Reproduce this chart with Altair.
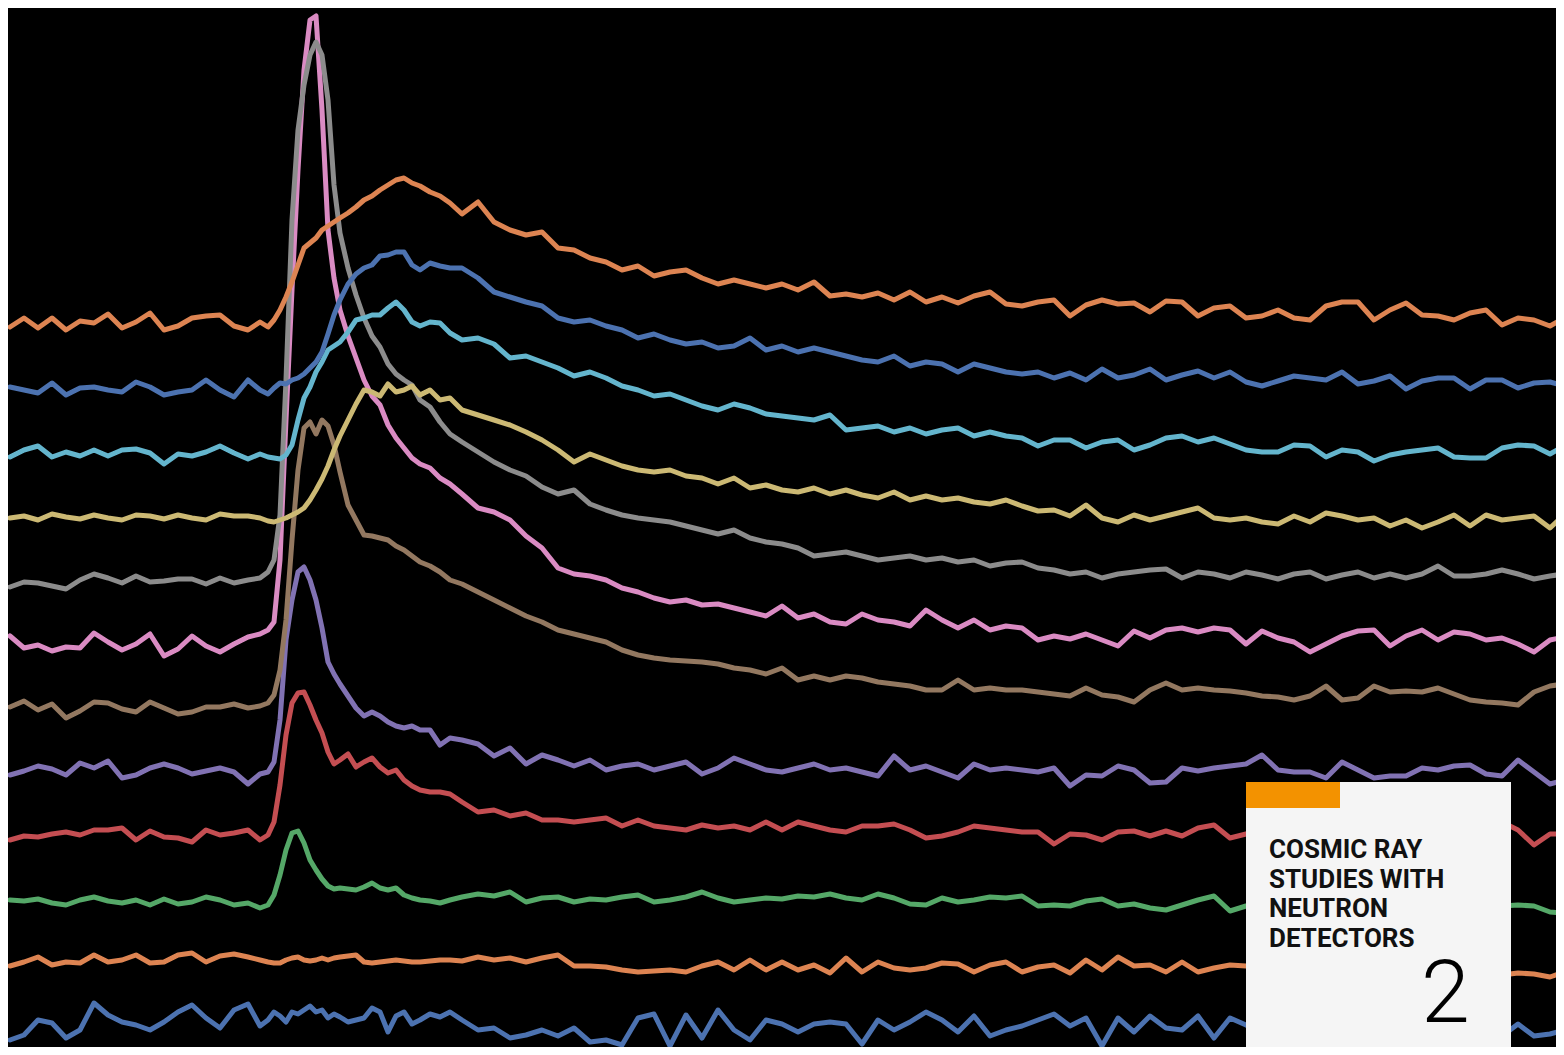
import altair as alt
import pandas as pd

# shared sample positions (horizontal channel, arbitrary time units)
X_LEFT = [10, 24, 38, 52, 66, 80, 94, 108, 122, 136, 150, 164, 178, 192, 206, 220, 234, 248, 260, 268]
X_PEAK = [274, 280, 286, 292, 298, 304, 310, 316, 322, 328, 334, 340, 348, 356, 364, 372, 380, 388, 396, 404,
          412, 420, 430, 440, 450]
X_TAIL = [462, 478, 494, 510, 526, 542, 558, 574, 590, 606,
          622, 638, 654, 670, 686, 702, 718, 734, 750, 766,
          782, 798, 814, 830, 846, 862, 878, 894, 910, 926,
          942, 958, 974, 990, 1006, 1022, 1038, 1054, 1070, 1086,
          1102, 1118, 1134, 1150, 1166, 1182, 1198, 1214, 1230, 1246,
          1262, 1278, 1294, 1310, 1326, 1342, 1358, 1374, 1390, 1406,
          1422, 1438, 1454, 1470, 1486, 1502, 1518, 1534, 1550, 1564]
X = X_LEFT + X_PEAK + X_TAIL

# stacked traces, values (vertical position, top = 0)
S00 = ([1040, 1035, 1020, 1023, 1038, 1030, 1003, 1015, 1022, 1025, 1030, 1022, 1012, 1005, 1018, 1028, 1010, 1004, 1026, 1020]
       + [1012, 1016, 1022, 1012, 1014, 1010, 1006, 1012, 1010, 1018, 1014, 1017, 1022, 1020, 1018, 1008, 1012, 1032, 1016, 1012, 1024, 1020, 1014, 1017, 1012]
       + [1020, 1030, 1028, 1038, 1035, 1030, 1036, 1028, 1042, 1040, 1045, 1018, 1014, 1046, 1015, 1038, 1010, 1030, 1040, 1020,
          1024, 1032, 1024, 1022, 1024, 1044, 1020, 1030, 1022, 1012, 1020, 1032, 1016, 1036, 1030, 1026, 1020, 1014, 1026, 1018,
          1046, 1018, 1032, 1016, 1028, 1030, 1016, 1038, 1018, 1025, 1030, 1020, 1032, 1018, 1028, 1022, 1034, 1020, 1030, 1024,
          1032, 1020, 1028, 1024, 1030, 1036, 1024, 1036, 1034, 1030])
S01 = ([966, 962, 957, 965, 962, 963, 955, 962, 960, 955, 963, 962, 955, 953, 962, 956, 954, 957, 960, 962]
       + [963, 963, 960, 958, 957, 960, 961, 960, 958, 960, 958, 957, 956, 955, 962, 963, 962, 961, 960, 961, 962, 962, 961, 960, 960]
       + [961, 957, 960, 958, 962, 958, 955, 966, 966, 967, 970, 972, 971, 970, 972, 966, 962, 970, 960, 970,
          962, 970, 965, 973, 958, 972, 962, 968, 970, 968, 963, 964, 972, 965, 962, 972, 967, 965, 973, 960,
          970, 957, 966, 965, 972, 962, 972, 968, 965, 966, 968, 965, 970, 966, 968, 965, 970, 966, 968, 965,
          970, 967, 968, 966, 970, 975, 973, 974, 977, 972])
S02 = ([900, 901, 899, 903, 905, 900, 897, 901, 903, 900, 905, 899, 904, 902, 897, 900, 905, 903, 908, 905]
       + [895, 875, 850, 833, 831, 843, 860, 870, 879, 886, 889, 888, 889, 890, 887, 883, 888, 890, 888, 895, 898, 900, 901, 903, 900]
       + [897, 894, 896, 892, 902, 898, 897, 902, 899, 900, 897, 895, 902, 900, 897, 892, 898, 902, 900, 898,
          899, 896, 897, 894, 898, 900, 894, 898, 904, 905, 898, 902, 900, 897, 898, 896, 906, 905, 906, 901,
          899, 906, 904, 908, 910, 905, 900, 896, 911, 906, 904, 903, 906, 904, 905, 903, 906, 904, 905, 903,
          906, 904, 905, 903, 904, 906, 905, 906, 912, 913])
S03 = ([840, 836, 837, 834, 832, 835, 830, 830, 828, 840, 831, 837, 838, 842, 830, 835, 833, 830, 840, 835]
       + [822, 785, 735, 703, 693, 692, 705, 720, 733, 752, 764, 760, 754, 767, 762, 758, 767, 773, 770, 780, 786, 790, 792, 792, 794]
       + [802, 812, 810, 816, 813, 820, 820, 822, 820, 818, 826, 820, 826, 828, 830, 825, 828, 826, 830, 822,
          830, 822, 826, 830, 832, 826, 826, 824, 830, 838, 836, 832, 826, 828, 830, 832, 832, 844, 834, 835,
          840, 832, 831, 836, 831, 836, 828, 825, 838, 834, 830, 834, 830, 836, 832, 830, 834, 830, 836, 832,
          830, 834, 830, 832, 834, 822, 830, 845, 834, 834])
S04 = ([775, 771, 766, 769, 775, 763, 768, 761, 778, 775, 768, 764, 768, 774, 771, 768, 772, 784, 774, 772]
       + [762, 720, 640, 600, 572, 567, 580, 600, 628, 662, 674, 684, 696, 708, 716, 712, 716, 722, 726, 728, 726, 730, 730, 745, 738]
       + [740, 744, 756, 748, 764, 755, 760, 766, 760, 770, 766, 764, 770, 766, 762, 774, 768, 758, 764, 770,
          772, 768, 764, 770, 768, 772, 776, 756, 770, 766, 772, 778, 764, 770, 768, 770, 772, 768, 786, 775,
          776, 766, 770, 783, 782, 768, 771, 768, 766, 764, 755, 770, 772, 772, 778, 762, 770, 778, 776, 776,
          768, 770, 766, 765, 774, 776, 760, 772, 784, 780])
S05 = ([707, 701, 710, 704, 718, 711, 702, 703, 709, 712, 702, 708, 714, 712, 707, 707, 704, 708, 706, 703]
       + [695, 670, 620, 540, 470, 428, 422, 434, 420, 426, 445, 472, 505, 520, 535, 536, 538, 540, 546, 550, 556, 562, 566, 572, 580]
       + [584, 592, 600, 608, 616, 622, 630, 634, 638, 642, 650, 655, 658, 660, 661, 662, 664, 668, 670, 674,
          668, 680, 676, 680, 676, 678, 682, 684, 686, 690, 690, 680, 690, 688, 690, 690, 692, 694, 696, 688,
          695, 697, 702, 690, 683, 690, 688, 690, 691, 693, 696, 697, 700, 696, 686, 700, 698, 686, 692, 691,
          692, 688, 694, 700, 702, 703, 705, 692, 686, 684])
S06 = ([636, 648, 645, 651, 647, 648, 633, 642, 650, 644, 634, 656, 649, 636, 646, 652, 644, 637, 634, 630]
       + [622, 560, 420, 290, 170, 70, 20, 16, 110, 230, 278, 310, 336, 358, 380, 396, 405, 425, 438, 448, 458, 464, 468, 478, 484]
       + [494, 508, 512, 520, 536, 548, 568, 574, 576, 580, 588, 592, 598, 602, 600, 605, 604, 608, 612, 616,
          606, 618, 614, 622, 624, 614, 620, 622, 626, 610, 620, 628, 620, 630, 626, 628, 640, 636, 639, 634,
          640, 646, 631, 638, 630, 628, 632, 628, 630, 644, 631, 638, 642, 652, 644, 636, 631, 630, 646, 636,
          630, 640, 632, 634, 640, 638, 644, 652, 640, 637])
S07 = ([587, 582, 583, 586, 589, 580, 574, 578, 583, 576, 582, 581, 579, 579, 584, 578, 583, 580, 578, 572]
       + [560, 515, 380, 220, 130, 85, 55, 42, 55, 100, 185, 233, 268, 295, 318, 336, 347, 364, 374, 380, 385, 400, 407, 422, 434]
       + [442, 452, 462, 470, 476, 487, 494, 490, 504, 510, 515, 518, 520, 522, 526, 530, 534, 530, 538, 542,
          544, 548, 556, 554, 552, 556, 560, 558, 556, 560, 558, 562, 560, 566, 563, 562, 568, 570, 574, 572,
          578, 574, 572, 570, 569, 578, 572, 574, 578, 572, 575, 579, 574, 572, 579, 575, 572, 578, 574, 578,
          574, 566, 576, 576, 574, 570, 574, 579, 576, 574])
S08 = ([518, 516, 520, 514, 517, 519, 515, 518, 520, 515, 516, 519, 515, 518, 520, 514, 516, 516, 518, 521]
       + [522, 520, 518, 515, 512, 508, 500, 490, 479, 466, 450, 436, 420, 404, 390, 392, 396, 384, 392, 390, 386, 395, 390, 400, 398]
       + [410, 415, 420, 425, 432, 440, 450, 462, 454, 460, 466, 470, 472, 470, 476, 478, 484, 478, 488, 485,
          490, 492, 488, 494, 490, 495, 498, 492, 500, 496, 500, 498, 502, 504, 500, 506, 511, 510, 516, 505,
          518, 522, 515, 520, 516, 512, 508, 518, 520, 518, 522, 524, 516, 522, 513, 516, 520, 518, 526, 520,
          528, 522, 515, 526, 515, 520, 518, 516, 528, 515])
S09 = ([457, 450, 446, 457, 452, 456, 450, 456, 450, 449, 453, 464, 454, 456, 452, 446, 453, 459, 454, 457]
       + [458, 459, 455, 445, 420, 398, 387, 372, 362, 350, 346, 342, 332, 320, 318, 315, 315, 308, 302, 310, 322, 326, 322, 323, 333]
       + [340, 338, 344, 358, 356, 362, 368, 376, 372, 378, 386, 390, 396, 394, 400, 406, 410, 404, 408, 414,
          416, 418, 420, 415, 430, 428, 426, 432, 428, 434, 430, 428, 436, 432, 436, 438, 446, 440, 440, 448,
          442, 440, 450, 445, 438, 436, 442, 438, 444, 450, 452, 452, 445, 446, 457, 450, 452, 461, 455, 452,
          450, 448, 457, 458, 458, 448, 445, 446, 454, 446])
S10 = ([387, 390, 393, 383, 395, 388, 387, 390, 392, 382, 387, 395, 392, 390, 380, 390, 397, 380, 390, 394]
       + [388, 383, 384, 380, 378, 374, 368, 362, 352, 334, 315, 300, 284, 274, 268, 265, 256, 255, 252, 252, 265, 270, 263, 266, 268]
       + [268, 278, 292, 297, 302, 306, 318, 322, 320, 326, 330, 338, 334, 340, 344, 342, 348, 346, 338, 350,
          346, 352, 348, 352, 356, 360, 362, 356, 366, 362, 364, 372, 364, 368, 372, 374, 372, 378, 373, 380,
          369, 378, 375, 369, 380, 375, 371, 378, 372, 382, 386, 381, 376, 378, 380, 372, 384, 381, 376, 389,
          381, 378, 378, 389, 380, 380, 388, 383, 382, 386])
S11 = ([327, 318, 328, 318, 330, 321, 323, 314, 328, 322, 313, 330, 326, 318, 316, 315, 326, 330, 322, 327]
       + [320, 310, 297, 282, 265, 248, 243, 238, 230, 226, 222, 218, 213, 207, 200, 196, 190, 185, 180, 178, 183, 186, 192, 196, 203]
       + [214, 202, 222, 230, 235, 232, 248, 250, 258, 262, 270, 266, 276, 272, 270, 278, 284, 280, 284, 288,
          284, 290, 282, 296, 294, 297, 293, 300, 292, 302, 297, 303, 296, 292, 304, 306, 302, 300, 316, 305,
          300, 304, 303, 312, 301, 302, 316, 308, 306, 318, 316, 310, 318, 320, 306, 302, 302, 320, 310, 303,
          315, 316, 320, 313, 310, 325, 318, 320, 326, 318])

SERIES = [S00, S01, S02, S03, S04, S05, S06, S07, S08, S09, S10, S11]
NAMES = ["s%02d" % i for i in range(len(SERIES))]
COLORS = ["#4C72B0", "#DD8452", "#55A868", "#C44E52", "#8172B3", "#937860",
          "#DA8BC3", "#8C8C8C", "#CCB974", "#64B5CD", "#4C72B0", "#DD8452"]

TITLE_LINES = ["COSMIC RAY", "STUDIES WITH", "NEUTRON", "DETECTORS"]
NUMBER = "2"

rows = []
for name, ys in zip(NAMES, SERIES):
    if len(ys) != len(X):
        print("length mismatch", name, len(ys), len(X))
    for xv, yv in zip(X, ys):
        rows.append({"x": xv, "y": yv, "s": name})
df = pd.DataFrame(rows)

# plot area sits inside the page's 8px margin: visible window of the scene
X0, X1 = 8, 1556
Y0, Y1 = 8, 1047
W, H = X1 - X0, Y1 - Y0

lines = alt.Chart(df).mark_line(strokeWidth=5, strokeJoin="round", strokeCap="round", clip=True).encode(
    x=alt.X("x:Q", scale=alt.Scale(domain=[X0, X1], nice=False, zero=False), axis=None),
    y=alt.Y("y:Q", scale=alt.Scale(domain=[Y0, Y1], nice=False, zero=False, reverse=True), axis=None),
    color=alt.Color("s:N", scale=alt.Scale(domain=NAMES, range=COLORS), legend=None),
)

one = pd.DataFrame({"k": [0]})
box = alt.Chart(one).mark_rect(color="#f5f5f5").encode(
    x=alt.value(1246 - X0), x2=alt.value(1511 - X0), y=alt.value(782 - Y0), y2=alt.value(H)
)
bar = alt.Chart(one).mark_rect(color="#f39200").encode(
    x=alt.value(1246 - X0), x2=alt.value(1340 - X0), y=alt.value(782 - Y0), y2=alt.value(808 - Y0)
)
title = alt.Chart(one).mark_text(
    align="left", baseline="alphabetic", font="Roboto", fontSize=26, fontWeight="bold",
    color="#111111", lineBreak="\n", lineHeight=29.5
).encode(x=alt.value(1269 - X0), y=alt.value(858 - Y0), text=alt.value("\n".join(TITLE_LINES)))
digit = alt.Chart(one).mark_text(
    align="left", baseline="alphabetic", font="Roboto", fontSize=88, fontWeight=300, color="#000000"
).encode(x=alt.value(1421 - X0), y=alt.value(H - 25), text=alt.value(NUMBER))

chart = alt.layer(lines, box, bar, title, digit).properties(
    width=W, height=H, background="#000000", padding=0,
).configure_view(stroke=None)

chart.save("out.html", embed_options={"renderer": "svg", "actions": False})
